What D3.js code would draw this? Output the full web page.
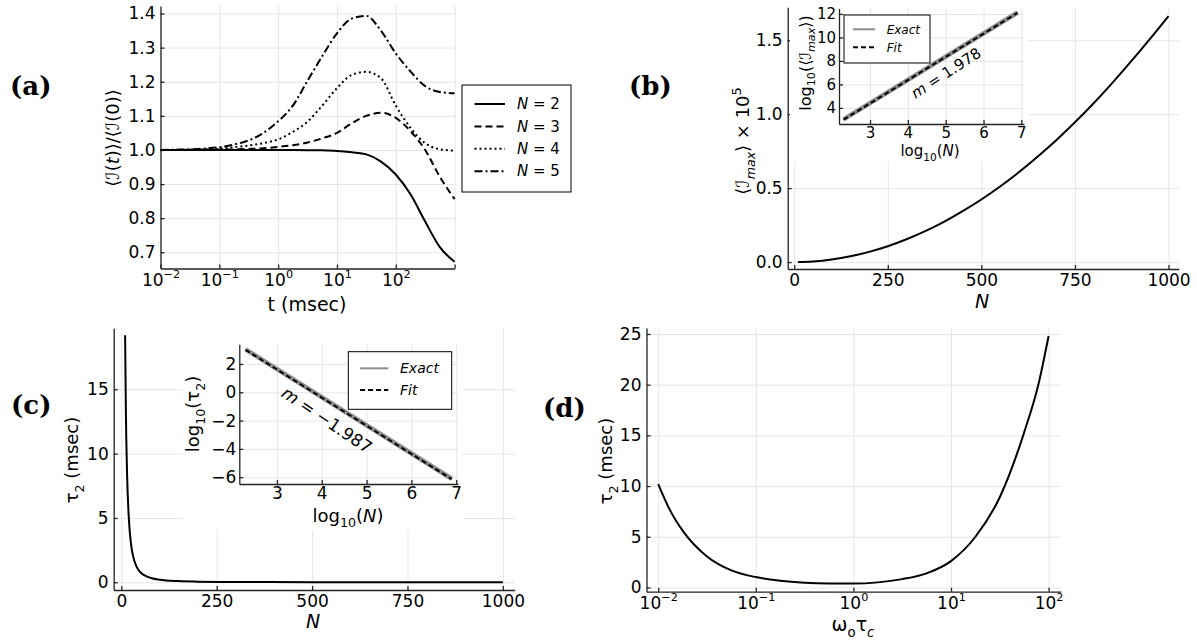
<!DOCTYPE html>
<html>
<head>
<meta charset="utf-8">
<script src="https://cdn.jsdelivr.net/npm/d3@7"></script>
<style>
  body { margin: 0; background: #fff; }
  svg text { font-family: "DejaVu Sans", sans-serif; fill: #000; }
  .lbl { font-family: "DejaVu Serif", serif !important; font-weight: bold; }
</style>
</head>
<body>
<svg id="fig" width="1197" height="640"></svg>
<script>
// ---- data ----
// (a) intensity ratio vs time, one series per N
const tMs = [0.01, 0.0178, 0.0316, 0.0562, 0.1, 0.178, 0.316, 0.562, 1, 1.78, 3.16, 5.62,
             10, 17.8, 31.6, 56.2, 100, 178, 316, 562, 1000];
const ratioN2 = [1.0, 1.0, 1.0, 1.0, 1.0, 1.0, 1.0, 1.0, 1.0, 0.9998, 0.9995, 0.9988,
                 0.997, 0.993, 0.987, 0.966, 0.928, 0.870, 0.790, 0.715, 0.672];
const ratioN3 = [1.0, 1.0, 1.0, 1.0003, 1.001, 1.0015, 1.003, 1.005, 1.009, 1.014, 1.022, 1.034,
                 1.05, 1.078, 1.100, 1.109, 1.094, 1.055, 1.0, 0.921, 0.856];
const ratioN4 = [1.0, 1.0, 1.001, 1.002, 1.004, 1.008, 1.013, 1.02, 1.031, 1.053, 1.083, 1.13,
                 1.181, 1.220, 1.229, 1.21, 1.13, 1.065, 1.02, 1.002, 0.998];
const ratioN5 = [1.0, 1.001, 1.002, 1.004, 1.008, 1.016, 1.028, 1.05, 1.084, 1.13, 1.203, 1.275,
                 1.342, 1.385, 1.393, 1.349, 1.283, 1.23, 1.187, 1.17, 1.166];
const seriesNames = ["2", "3", "4", "5"];

// (b) max intensity (x 1e5) vs N
const nB = [10, 50, 100, 150, 200, 250, 300, 350, 400, 450, 500, 550, 600, 650, 700, 750, 800, 850, 900, 950, 1000];
const iMax = [0.0002, 0.0043, 0.0175, 0.039, 0.069, 0.107, 0.154, 0.209, 0.272, 0.344, 0.423,
              0.511, 0.607, 0.712, 0.824, 0.945, 1.074, 1.212, 1.357, 1.508, 1.664];
const logNb = [2.3, 6.9];
const logIExact = [3.03, 12.12];
const logIFit = [3.0, 12.1];

// (c) tau2 vs N
const nC = [10, 12, 15, 20, 25, 30, 40, 50, 60, 80, 100, 150, 200, 300, 500, 750, 1000];
const tau2N = [19.2, 13.3, 8.6, 4.85, 3.1, 2.15, 1.22, 0.78, 0.55, 0.31, 0.2, 0.09, 0.05, 0.022, 0.008, 0.0035, 0.002];
const logNc = [2.3, 6.9];
const logTauExact = [3.03, -6.11];
const logTauFit = [3.0, -6.14];

// (d) tau2 vs omega0*tauc
const wTau = [0.01, 0.0132, 0.0178, 0.0316, 0.0562, 0.1, 0.178, 0.316, 0.562, 1, 1.78, 3.16,
              5.62, 10, 17.8, 31.6, 56.2, 79.4, 100];
const tau2W = [10.2, 7.63, 5.6, 3.05, 1.68, 1.02, 0.66, 0.47, 0.39, 0.38, 0.5, 0.82,
               1.39, 2.6, 5.0, 8.9, 15.3, 20.2, 24.8];

const svg = d3.select("#fig");
const GRID = "#e6e6e6", AX = "#222";

// grid + left/bottom axes with small inward ticks
function frame(x, y, o) {
  const g = svg.append("g");
  const [x0, x1] = x.range(), [y1, y0] = y.range();
  if (o.bg) g.append("rect").attr("x", o.bg[0]).attr("y", o.bg[1])
    .attr("width", o.bg[2] - o.bg[0]).attr("height", o.bg[3] - o.bg[1]).attr("fill", "#fff");
  g.append("g").attr("transform", `translate(0,${y1})`)
    .call(d3.axisBottom(x).tickValues(o.xt).tickSize(-(y1 - y0)).tickFormat(""))
    .call(s => s.select(".domain").remove())
    .selectAll("line").attr("stroke", GRID);
  g.append("g").attr("transform", `translate(${x0},0)`)
    .call(d3.axisLeft(y).tickValues(o.yt).tickSize(-(x1 - x0)).tickFormat(""))
    .call(s => s.select(".domain").remove())
    .selectAll("line").attr("stroke", GRID);
  const xa = g.append("g").attr("transform", `translate(0,${y1})`)
    .call(d3.axisBottom(x).tickValues(o.xt).tickSizeInner(-4).tickSizeOuter(0)
      .tickPadding(o.pad || 5).tickFormat(o.xf || ""));
  const ya = g.append("g").attr("transform", `translate(${x0},0)`)
    .call(d3.axisLeft(y).tickValues(o.yt).tickSizeInner(-4).tickSizeOuter(0)
      .tickPadding(o.pad || 5).tickFormat(o.yf));
  [xa, ya].forEach(a => {
    a.attr("font-size", o.fs).attr("font-family", null);
    a.selectAll("path, line").attr("stroke", AX).attr("stroke-width", 1.3);
  });
  return {g, xa, ya};
}

function powLabels(a, fs, skip) {
  a.selectAll(".tick text").each(function (d) {
    if (skip && skip(d)) return;
    const e = Math.round(Math.log10(d));
    const t = d3.select(this);
    t.append("tspan").text("10");
    t.append("tspan").attr("dy", -0.45 * fs).attr("font-size", 0.66 * fs)
      .text(e < 0 ? "\u2212" + (-e) : e);
  });
}

function label(x, y, fs, html, rot) {
  return svg.append("text")
    .attr("transform", `translate(${x},${y})` + (rot ? " rotate(-90)" : ""))
    .attr("text-anchor", "middle").attr("font-size", fs)
    .attr("dy", rot ? "0.35em" : 0).html(html);
}

function panelTag(x, y, s) {
  svg.append("text").attr("class", "lbl").attr("x", x).attr("y", y)
    .attr("font-size", 26).text(s);
}

function curve(x, y, xs, ys, style) {
  const line = d3.line().x(d => x(d[0])).y(d => y(d[1])).curve(d3.curveMonotoneX);
  return svg.append("path").datum(xs.map((v, i) => [v, ys[i]]))
    .attr("d", line).attr("fill", "none")
    .attr("stroke", style.c || "#000").attr("stroke-width", style.w || 2)
    .attr("stroke-dasharray", style.dash || null);
}

const sub = (s, f, it) => `<tspan dy="${0.3 * f}" font-size="${0.7 * f}"${it ? ' font-style="italic"' : ""}>${s}</tspan><tspan dy="${-0.3 * f}">`;

// ---------- (a) ----------
const xA = d3.scaleLog().domain([0.01, 1000]).range([160.5, 454.6]);
const yA = d3.scaleLinear().domain([0.6525, 1.422]).range([268.5, 6]);
const fA = frame(xA, yA, {xt: [0.01, 0.1, 1, 10, 100, 1000], yt: [0.7, 0.8, 0.9, 1.0, 1.1, 1.2, 1.3, 1.4],
  yf: d3.format(".1f"), fs: 17, pad: 5});
powLabels(fA.xa, 17, d => d === 1000);

const dashA = [null, "7,4", "2,3", "8,3,2,3"];
const seriesA = [ratioN2, ratioN3, ratioN4, ratioN5];
seriesA.forEach((s, i) => curve(xA, yA, tMs, s, {dash: dashA[i]}));

svg.append("rect").attr("x", 462).attr("y", 85).attr("width", 109).attr("height", 107)
  .attr("fill", "#fff").attr("stroke", "#000").attr("stroke-width", 1);
seriesNames.forEach((n, i) => {
  const yy = 104 + i * 22.4;
  svg.append("line").attr("x1", 474.5).attr("x2", 505).attr("y1", yy).attr("y2", yy)
    .attr("stroke", "#000").attr("stroke-width", 2).attr("stroke-dasharray", dashA[i]);
  svg.append("text").attr("x", 517).attr("y", yy).attr("dy", "0.35em").attr("font-size", 15)
    .html(`<tspan font-style="italic">N</tspan> = ${n}`);
});
label(113, 138, 18, `⟨ℐ(<tspan font-style="italic">t</tspan>)⟩/⟨ℐ(0)⟩`, true);
label(307, 311, 19, "t (msec)");
panelTag(10, 95, "(a)");

// ---------- (b) ----------
const xB = d3.scaleLinear().domain([-17.4, 1027.5]).range([787.7, 1178.8]);
const yB = d3.scaleLinear().domain([-0.047, 1.723]).range([269, 7.3]);
frame(xB, yB, {xt: [0, 250, 500, 750, 1000], yt: [0, 0.5, 1.0, 1.5],
  xf: d3.format("d"), yf: d3.format(".1f"), fs: 17, pad: 5});
curve(xB, yB, nB, iMax, {});
label(743, 141, 18, `⟨ℐ${sub("max", 18, true)}⟩ × 10</tspan><tspan dy="${-0.45 * 18}" font-size="13">5</tspan>`, true);
label(982, 308, 19, `<tspan font-style="italic">N</tspan>`);
panelTag(629, 95, "(b)");

// inset (b)
const xBi = d3.scaleLinear().domain([2.18, 7.07]).range([839, 1024]);
const yBi = d3.scaleLinear().domain([2.63, 12.48]).range([124, 8.3]);
frame(xBi, yBi, {xt: [3, 4, 5, 6, 7], yt: [4, 6, 8, 10, 12], xf: d3.format("d"), yf: d3.format("d"),
  fs: 15, pad: 3, bg: [790, 0, 1028, 162]});
curve(xBi, yBi, logNb, logIExact, {c: "#8c8c8c", w: 4.5});
curve(xBi, yBi, logNb, logIFit, {c: "#000", w: 2, dash: "5,3"});
svg.append("rect").attr("x", 844).attr("y", 15).attr("width", 86).attr("height", 48)
  .attr("fill", "#fff").attr("stroke", "#000").attr("stroke-width", 1);
[["Exact", "#8c8c8c", null, 29.3], ["Fit", "#000", "5,3", 47.3]].forEach(([t, c, d, yy]) => {
  svg.append("line").attr("x1", 853).attr("x2", 875).attr("y1", yy).attr("y2", yy)
    .attr("stroke", c).attr("stroke-width", 2).attr("stroke-dasharray", d);
  svg.append("text").attr("x", 886.7).attr("y", yy).attr("dy", "0.35em").attr("font-size", 12)
    .attr("font-style", "italic").text(t);
});
svg.append("text").attr("transform", "translate(946,73) rotate(-33)").attr("text-anchor", "middle")
  .attr("dy", "0.35em").attr("font-size", 15)
  .html(`<tspan font-style="italic">m</tspan> = 1.978`);
label(805, 63, 16, `log${sub("10", 16)}(⟨ℐ</tspan>${sub("max", 16, true)}⟩)</tspan>`, true);
label(930, 156, 15, `log${sub("10", 15)}(<tspan font-style="italic">N</tspan>)</tspan>`);

// ---------- (c) ----------
const xC = d3.scaleLinear().domain([-19.9, 1031]).range([113.7, 514.7]);
const yC = d3.scaleLinear().domain([-0.6, 19.74]).range([590, 328.3]);
frame(xC, yC, {xt: [0, 250, 500, 750, 1000], yt: [0, 5, 10, 15],
  xf: d3.format("d"), yf: d3.format("d"), fs: 17, pad: 5});
curve(xC, yC, nC, tau2N, {});
label(72, 460, 18, `τ${sub("2", 18)} (msec)</tspan>`, true);
label(313, 628, 19, `<tspan font-style="italic">N</tspan>`);
panelTag(11, 414, "(c)");

// inset (c)
const xCi = d3.scaleLinear().domain([2.16, 7.04]).range([239.3, 458]);
const yCi = d3.scaleLinear().domain([-6.48, 3.39]).range([484, 344.3]);
frame(xCi, yCi, {xt: [3, 4, 5, 6, 7], yt: [-6, -4, -2, 0, 2], xf: d3.format("d"), yf: d3.format("d"),
  fs: 17, pad: 3, bg: [183, 322, 463, 530]});
curve(xCi, yCi, logNc, logTauExact, {c: "#8c8c8c", w: 4.5});
curve(xCi, yCi, logNc, logTauFit, {c: "#000", w: 2, dash: "5,3"});
svg.append("rect").attr("x", 348.3).attr("y", 351.7).attr("width", 103.4).attr("height", 57.6)
  .attr("fill", "#fff").attr("stroke", "#000").attr("stroke-width", 1);
[["Exact", "#8c8c8c", null, 368.3], ["Fit", "#000", "5,3", 390]].forEach(([t, c, d, yy]) => {
  svg.append("line").attr("x1", 360).attr("x2", 388.3).attr("y1", yy).attr("y2", yy)
    .attr("stroke", c).attr("stroke-width", 2).attr("stroke-dasharray", d);
  svg.append("text").attr("x", 400).attr("y", yy).attr("dy", "0.35em").attr("font-size", 14)
    .attr("font-style", "italic").text(t);
});
svg.append("text").attr("transform", "translate(327,420) rotate(34)").attr("text-anchor", "middle")
  .attr("dy", "0.35em").attr("font-size", 17)
  .html(`<tspan font-style="italic">m</tspan> = −1.987`);
label(193, 414, 18, `log${sub("10", 18)}(τ</tspan>${sub("2", 18)})</tspan>`, true);
label(348, 522, 18, `log${sub("10", 18)}(<tspan font-style="italic">N</tspan>)</tspan>`);

// ---------- (d) ----------
const xD = d3.scaleLog().domain([Math.pow(10, -2.12), Math.pow(10, 2.125)]).range([646.5, 1060.8]);
const yD = d3.scaleLinear().domain([-0.42, 25.59]).range([591.7, 328]);
const fD = frame(xD, yD, {xt: [0.01, 0.1, 1, 10, 100], yt: [0, 5, 10, 15, 20, 25],
  yf: d3.format("d"), fs: 17, pad: 5});
powLabels(fD.xa, 17);
curve(xD, yD, wTau, tau2W, {});
label(606, 461, 18, `τ${sub("2", 18)} (msec)</tspan>`, true);
label(853, 631, 19, `ω${sub("o", 19)}τ</tspan>${sub("c", 19, true)}</tspan>`);
panelTag(543, 417, "(d)");
</script>
</body>
</html>
